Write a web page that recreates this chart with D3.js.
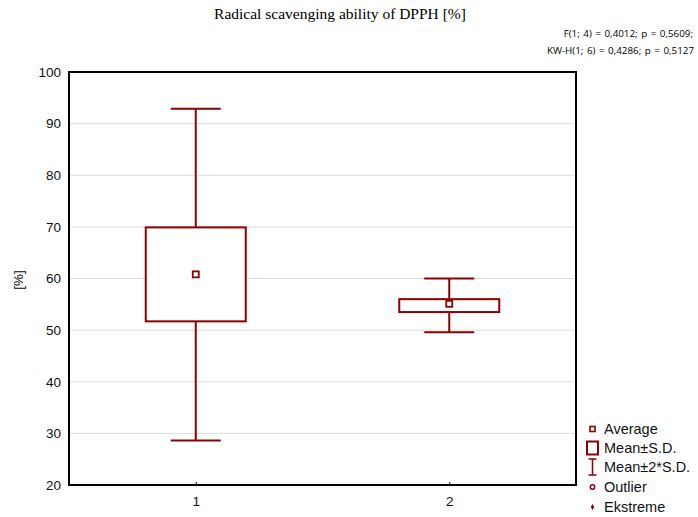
<!DOCTYPE html>
<html>
<head>
<meta charset="utf-8">
<script src="https://cdn.jsdelivr.net/npm/d3@7"></script>
<style>
  body { margin: 0; background: #fff; }
  svg text { font-family: "Liberation Sans", Arial, sans-serif; }
</style>
</head>
<body>
<div id="chart"></div>
<script>
// Datos
const groups = ['1', '2'];
const means = [60.8, 55.1];
const sdLow = [51.7, 53.5];
const sdHigh = [69.9, 56.0];
const whiskerLow = [28.6, 49.6];
const whiskerHigh = [92.9, 60.0];
const yTicks = [20, 30, 40, 50, 60, 70, 80, 90, 100];
const legendLabels = ['Average', 'Mean±S.D.', 'Mean±2*S.D.', 'Outlier', 'Ekstreme'];

const W = 698, H = 517;
const margin = { top: 72, right: 122, bottom: 32, left: 69 };
const red = '#8b0000';

const svg = d3.select('#chart').append('svg')
    .attr('width', W).attr('height', H);

const x = d3.scalePoint().domain(groups)
    .range([margin.left, W - margin.right]).padding(0.5);
const y = d3.scaleLinear().domain([20, 100])
    .range([H - margin.bottom, margin.top]);

// Rejilla
svg.append('g').selectAll('line')
    .data(yTicks.slice(1, -1))
    .join('line')
    .attr('x1', margin.left).attr('x2', W - margin.right)
    .attr('y1', d => y(d)).attr('y2', d => y(d))
    .attr('stroke', '#dcdcdc').attr('stroke-width', 1);

// Ejes
const yAxis = svg.append('g')
    .attr('transform', `translate(${margin.left},0)`)
    .call(d3.axisLeft(y).tickValues(yTicks).tickSize(0).tickPadding(8));
yAxis.select('.domain').remove();
yAxis.selectAll('text').attr('font-size', 13.5).attr('fill', '#111');

const xAxis = svg.append('g')
    .attr('transform', `translate(0,${H - margin.bottom})`)
    .call(d3.axisBottom(x).tickSize(-3).tickPadding(11));
xAxis.select('.domain').remove();
xAxis.selectAll('line').attr('stroke', '#000');
xAxis.selectAll('text').attr('font-size', 13.5).attr('fill', '#111');

// Marco
svg.append('rect')
    .attr('x', margin.left).attr('y', margin.top)
    .attr('width', W - margin.right - margin.left)
    .attr('height', H - margin.bottom - margin.top)
    .attr('fill', 'none').attr('stroke', '#000').attr('stroke-width', 2);

// Cajas
const boxW = 100, capW = 50, meanS = 6;
const g = svg.append('g').selectAll('g')
    .data(groups.map((k, i) => ({ k, i })))
    .join('g');

g.append('line')
    .attr('x1', d => x(d.k)).attr('x2', d => x(d.k))
    .attr('y1', d => y(whiskerHigh[d.i])).attr('y2', d => y(sdHigh[d.i]))
    .attr('stroke', red).attr('stroke-width', 2);
g.append('line')
    .attr('x1', d => x(d.k)).attr('x2', d => x(d.k))
    .attr('y1', d => y(sdLow[d.i])).attr('y2', d => y(whiskerLow[d.i]))
    .attr('stroke', red).attr('stroke-width', 2);
[whiskerHigh, whiskerLow].forEach(arr => {
    g.append('line')
        .attr('x1', d => x(d.k) - capW / 2).attr('x2', d => x(d.k) + capW / 2)
        .attr('y1', d => y(arr[d.i])).attr('y2', d => y(arr[d.i]))
        .attr('stroke', red).attr('stroke-width', 2);
});
g.append('rect')
    .attr('x', d => x(d.k) - boxW / 2)
    .attr('y', d => y(sdHigh[d.i]))
    .attr('width', boxW)
    .attr('height', d => y(sdLow[d.i]) - y(sdHigh[d.i]))
    .attr('fill', '#fff').attr('stroke', red).attr('stroke-width', 2);
g.append('rect')
    .attr('x', d => x(d.k) - meanS / 2)
    .attr('y', d => y(means[d.i]) - meanS / 2)
    .attr('width', meanS).attr('height', meanS)
    .attr('fill', '#fff').attr('stroke', red).attr('stroke-width', 1.8);

// Títulos
svg.append('text')
    .attr('x', 340).attr('y', 19)
    .attr('text-anchor', 'middle')
    .style('font-family', '"Liberation Serif", "Times New Roman", serif')
    .attr('font-size', 15.5)
    .text('Radical scavenging ability  of DPPH [%]');

svg.append('text')
    .attr('x', 693).attr('y', 37)
    .attr('text-anchor', 'end').attr('font-size', 9.8)
    .attr('word-spacing', 1)
    .style('font-family', '"Open Sans", sans-serif')
    .text('F(1; 4) = 0,4012; p = 0,5609;');
svg.append('text')
    .attr('x', 694).attr('y', 54)
    .attr('text-anchor', 'end').attr('font-size', 9.8)
    .attr('word-spacing', 1)
    .style('font-family', '"Open Sans", sans-serif')
    .text('KW-H(1; 6) = 0,4286; p = 0,5127');

svg.append('text')
    .attr('transform', 'translate(23,280) rotate(-90)')
    .attr('text-anchor', 'middle').attr('font-size', 13.5)
    .text('[%]');

// Leyenda
const legY = [429, 448, 467, 487, 507];
const lg = svg.append('g');
lg.selectAll('text')
    .data(legendLabels)
    .join('text')
    .attr('x', 604).attr('y', (d, i) => legY[i] + 5)
    .attr('font-size', 14.5).attr('fill', '#111')
    .text(d => d);

const mx = 592.5;
lg.append('rect').attr('x', mx - 2.5).attr('y', legY[0] - 2.5)
    .attr('width', 5).attr('height', 5)
    .attr('fill', '#fff').attr('stroke', red).attr('stroke-width', 1.6);
lg.append('rect').attr('x', mx - 5.5).attr('y', legY[1] - 6.5)
    .attr('width', 11).attr('height', 13)
    .attr('fill', '#fff').attr('stroke', red).attr('stroke-width', 2);
lg.append('path')
    .attr('d', `M${mx - 4},${legY[2] - 8}H${mx + 4}M${mx},${legY[2] - 8}V${legY[2] + 8}M${mx - 4},${legY[2] + 8}H${mx + 4}`)
    .attr('fill', 'none').attr('stroke', red).attr('stroke-width', 1.5);
lg.append('circle').attr('cx', mx).attr('cy', legY[3]).attr('r', 2.2)
    .attr('fill', '#fff').attr('stroke', red).attr('stroke-width', 1.5);
lg.append('path')
    .attr('d', d3.symbol(d3.symbolDiamond, 10)())
    .attr('transform', `translate(${mx},${legY[4]})`)
    .attr('fill', red);
</script>
</body>
</html>
